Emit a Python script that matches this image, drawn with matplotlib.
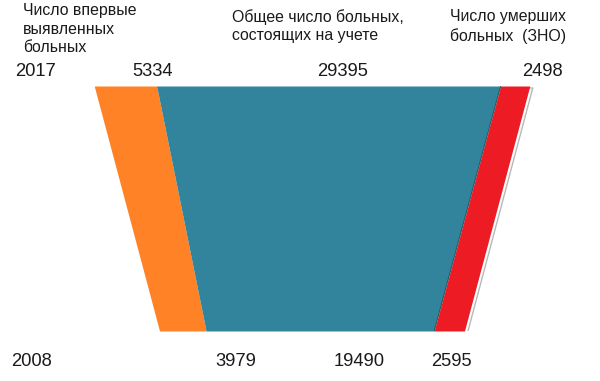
import matplotlib.pyplot as plt
import matplotlib.transforms as mtransforms
import numpy as np

plt.rcParams['font.family'] = ['Liberation Sans', 'DejaVu Sans']

years = ["2008", "2017"]
series = ["Число впервые\nвыявленных\nбольных",
          "Общее число больных,\nсостоящих на учете",
          "Число умерших\nбольных  (ЗНО)"]
new_cases = [3979, 5334]
registered = [19490, 29395]
deaths = [2595, 2498]
colors = ["#FF8227", "#31849B", "#ED1C24"]

vals = np.array([new_cases, registered, deaths], dtype=float)  # shape (3, 2)
totals = vals.sum(axis=0)
left = -totals / 2
edges = np.vstack([left, left + np.cumsum(vals, axis=0)])
y = np.array([0.0, 1.0])

fig = plt.figure(figsize=(6, 3.81), dpi=100)
# x scale: px per unit, center of shape at pixel 312
scale = 0.0117
ax = fig.add_axes([0, 50 / 381, 1, 245 / 381])
ax.set_xlim(-312 / scale, 288 / scale)
ax.set_ylim(0, 1)
ax.axis("off")

# light grey offset outline behind the shape
shadow = mtransforms.offset_copy(ax.transData, fig=fig, x=3, y=-2, units="dots")
ax.plot([edges[0, 0], edges[0, 1], edges[-1, 1], edges[-1, 0], edges[0, 0]],
        [0, 1, 1, 0, 0], color="#b8b8b8", lw=1, transform=shadow, zorder=1)

for i in range(3):
    ax.fill_betweenx(y, edges[i], edges[i + 1], color=colors[i], lw=0, zorder=2)
ax.plot(edges[2], y, color="#2a5560", lw=0.6, zorder=3)

fs_head = 11.4
txt = "#1a1a1a"
fig.text(23 / 600, 1 - 3 / 381, series[0], ha="left", va="top", fontsize=fs_head,
         linespacing=1.3, color=txt)
fig.text(232 / 600, 1 - 9 / 381, series[1], ha="left", va="top", fontsize=fs_head,
         linespacing=1.3, color=txt)
fig.text(450 / 600, 1 - 9 / 381, series[2], ha="left", va="top", fontsize=fs_head,
         linespacing=1.3, color=txt)

fs_num = 13.2
top_x = [153, 343, 542]
bot_x = [236, 359, 451]
fig.text(35 / 600, 1 - 72 / 381, years[1], ha="center", va="center", fontsize=fs_num, color=txt)
fig.text(32 / 600, 1 - 362 / 381, years[0], ha="center", va="center", fontsize=fs_num, color=txt)
for i in range(3):
    fig.text(top_x[i] / 600, 1 - 72 / 381, str(int(vals[i, 1])), ha="center",
             va="center", fontsize=fs_num, color=txt)
    fig.text(bot_x[i] / 600, 1 - 362 / 381, str(int(vals[i, 0])), ha="center",
             va="center", fontsize=fs_num, color=txt)

fig.savefig("out.png", dpi=100)
